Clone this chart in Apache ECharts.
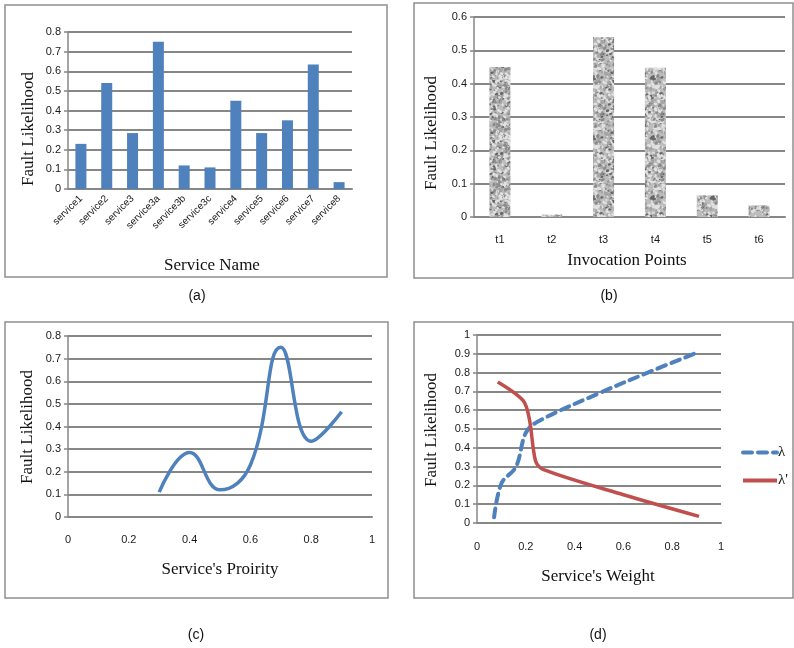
<!DOCTYPE html>
<html><head><meta charset="utf-8">
<script src="https://cdn.jsdelivr.net/npm/echarts@6/dist/echarts.min.js"></script>
<style>html,body{margin:0;padding:0;background:#fff}#c{width:794px;height:648px}</style>
</head><body><div id="c"></div>
<script>
// ---- data ----
const serviceNames = ['service1','service2','service3','service3a','service3b','service3c','service4','service5','service6','service7','service8'];
const serviceFault = [0.23, 0.54, 0.285, 0.75, 0.12, 0.11, 0.45, 0.285, 0.35, 0.635, 0.035];
const invocationPoints = ['t1','t2','t3','t4','t5','t6'];
const invocationFault = [0.45, 0.007, 0.54, 0.448, 0.065, 0.035];
const priorityX = [0.3, 0.4, 0.5, 0.6, 0.7, 0.8, 0.9];
const priorityFault = [0.11, 0.285, 0.12, 0.23, 0.75, 0.335, 0.465];
const lambdaWeight = [0.07, 0.1, 0.16, 0.2, 0.25, 0.5, 0.7, 0.9];
const lambdaFault = [0.03, 0.21, 0.3, 0.48, 0.54, 0.69, 0.8, 0.905];
const lambdaPrimeWeight = [0.085, 0.19, 0.215, 0.24, 0.27, 0.6, 0.91];
const lambdaPrimeFault = [0.75, 0.65, 0.55, 0.33, 0.285, 0.15, 0.035];
const seriesNamesD = ['λ', "λ'"];
const panelLabels = ['(a)', '(b)', '(c)', '(d)'];

// ---- texture for panel (b) (deterministic granite-like speckle) ----
function frac(v) { return v - Math.floor(v); }
function makeTexture() {
  const S = 60;
  const cv = document.createElement('canvas');
  cv.width = S; cv.height = S;
  const ctx = cv.getContext('2d');
  ctx.fillStyle = '#bcbcbc';
  ctx.fillRect(0, 0, S, S);
  for (let i = 0; i < 700; i++) {
    const x = frac(Math.sin(i * 12.9898) * 43758.5453) * S;
    const y = frac(Math.sin(i * 78.233 + 1.7) * 24634.6345) * S;
    const t = frac(Math.sin(i * 3.17 + 0.3) * 9631.77);
    const r = 0.6 + frac(Math.sin(i * 5.91) * 1234.5) * 0.9;
    let c;
    if (t < 0.4) c = '#e2e2e2';
    else if (t < 0.65) c = '#a4a4a4';
    else if (t < 0.88) c = '#8a8a8a';
    else c = '#666666';
    ctx.fillStyle = c;
    for (const dx of [-S, 0, S]) for (const dy of [-S, 0, S]) {
      ctx.beginPath();
      ctx.ellipse(x + dx, y + dy, r * 1.4, r, t * 3, 0, Math.PI * 2);
      ctx.fill();
    }
  }
  return cv;
}

const GRID = '#878787';
const TICKFONT = "'Liberation Sans Narrow', 'Liberation Sans', Arial, sans-serif";
const SERIF = "'Liberation Serif', 'Times New Roman', serif";
const SANS = "'Liberation Sans', Arial, sans-serif";

function yAxisCfg(gridIndex, max, interval) {
  return {
    type: 'value', gridIndex, min: 0, max, interval,
    axisLine: { show: true, lineStyle: { color: GRID, width: 1.5 } },
    axisTick: { show: true, length: 4, lineStyle: { color: GRID, width: 1.5 } },
    splitLine: { show: true, lineStyle: { color: GRID, width: 2 } },
    axisLabel: { color: '#1a1a1a', fontSize: 11, fontFamily: TICKFONT, margin: 7 }
  };
}
function xValueAxis(gridIndex, margin) {
  return {
    type: 'value', gridIndex, min: 0, max: 1, interval: 0.2,
    axisLine: { show: true, lineStyle: { color: GRID, width: 2 } },
    axisTick: { show: false }, splitLine: { show: false },
    axisLabel: { color: '#1a1a1a', fontSize: 11, fontFamily: TICKFONT, margin }
  };
}
function text(x, y, t, font, size, rotate) {
  return {
    type: 'text', x, y, rotation: rotate ? Math.PI / 2 : 0,
    style: { text: t, fontFamily: font, fontSize: size, fill: '#111', align: 'center', verticalAlign: 'middle' }
  };
}
function box(x, y, w, h) {
  return { type: 'rect', shape: { x, y, width: w, height: h }, style: { fill: 'none', stroke: '#8f8f8f', lineWidth: 1.5 } };
}

const option = {
  backgroundColor: '#fff',
  animation: false,
  grid: [
    { left: 68, top: 32, width: 284, height: 157 },
    { left: 474, top: 17, width: 311, height: 200 },
    { left: 68, top: 336, width: 304, height: 181 },
    { left: 477, top: 335, width: 244, height: 188 }
  ],
  xAxis: [
    { type: 'category', gridIndex: 0, data: serviceNames,
      axisLine: { show: true, lineStyle: { color: GRID, width: 2 } }, axisTick: { show: false },
      axisLabel: { rotate: 45, interval: 0, color: '#1a1a1a', fontSize: 10, fontFamily: TICKFONT, margin: 8 } },
    { type: 'category', gridIndex: 1, data: invocationPoints,
      axisLine: { show: true, lineStyle: { color: GRID, width: 2 } }, axisTick: { show: false },
      axisLabel: { color: '#1a1a1a', fontSize: 11, fontFamily: TICKFONT, margin: 17 } },
    xValueAxis(2, 17),
    xValueAxis(3, 18)
  ],
  yAxis: [
    yAxisCfg(0, 0.8, 0.1),
    yAxisCfg(1, 0.6, 0.1),
    yAxisCfg(2, 0.8, 0.1),
    yAxisCfg(3, 1, 0.1)
  ],
  legend: {
    left: 736, top: 440, orient: 'vertical', itemGap: 13, itemWidth: 34, itemHeight: 10,
    itemStyle: { opacity: 0 },
    lineStyle: { width: 4 },
    data: seriesNamesD,
    textStyle: { fontFamily: SERIF, fontSize: 15, color: '#111', padding: [0, 0, 0, -4] }
  },
  series: [
    { type: 'bar', xAxisIndex: 0, yAxisIndex: 0, data: serviceFault, barWidth: 11,
      itemStyle: { color: '#4F81BD' } },
    { type: 'bar', xAxisIndex: 1, yAxisIndex: 1, data: invocationFault, barWidth: 21,
      itemStyle: { color: { image: makeTexture(), repeat: 'repeat' } } },
    { type: 'line', xAxisIndex: 2, yAxisIndex: 2, smooth: 0.45, symbol: 'none',
      data: priorityX.map((x, i) => [x, priorityFault[i]]),
      lineStyle: { color: '#4F81BD', width: 3.5 } },
    { type: 'line', name: seriesNamesD[0], xAxisIndex: 3, yAxisIndex: 3, smooth: 0.35, symbol: 'none',
      data: lambdaWeight.map((x, i) => [x, lambdaFault[i]]),
      itemStyle: { color: '#4F81BD' },
      lineStyle: { color: '#4F81BD', width: 4, type: [9, 6], cap: 'round' } },
    { type: 'line', name: seriesNamesD[1], xAxisIndex: 3, yAxisIndex: 3, smooth: 0.3, symbol: 'none',
      data: lambdaPrimeWeight.map((x, i) => [x, lambdaPrimeFault[i]]),
      itemStyle: { color: '#C0504D' },
      lineStyle: { color: '#C0504D', width: 3.5 } }
  ],
  graphic: [
    box(5, 5, 382, 272),
    box(414, 3, 379, 275),
    box(5, 322, 383, 276),
    box(414, 322, 379, 276),
    text(29, 129, 'Fault Likelihood', SERIF, 17, true),
    text(212, 266, 'Service Name', SERIF, 17, false),
    text(432, 133, 'Fault Likelihood', SERIF, 17, true),
    text(627, 261, 'Invocation Points', SERIF, 17, false),
    text(28, 427, 'Fault Likelihood', SERIF, 17, true),
    text(220, 570, "Service's Proirity", SERIF, 17, false),
    text(432, 430, 'Fault Likelihood', SERIF, 17, true),
    text(598, 577, "Service's Weight", SERIF, 17, false),
    text(197, 296, panelLabels[0], SANS, 14, false),
    text(609, 296, panelLabels[1], SANS, 14, false),
    text(196, 635, panelLabels[2], SANS, 14, false),
    text(598, 635, panelLabels[3], SANS, 14, false)
  ]
};
const chart = echarts.init(document.getElementById('c'), null, { renderer: 'canvas' });
chart.setOption(option);
</script></body></html>
